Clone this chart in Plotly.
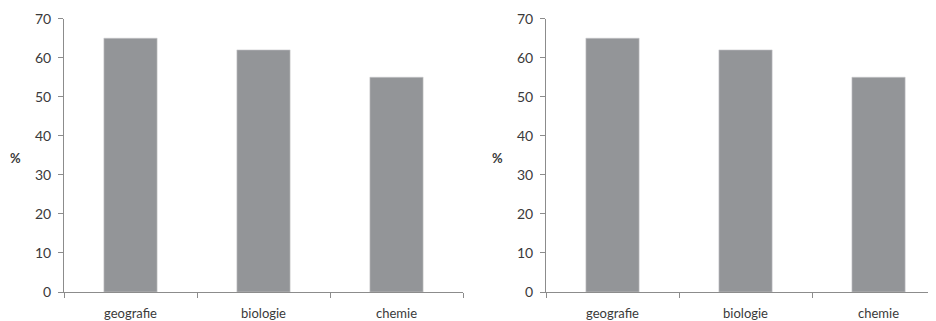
import plotly.graph_objects as go

categories = ["geografie", "biologie", "chemie"]
values_left = [65, 62, 55]
values_right = [65, 62, 55]
y_ticks = [0, 10, 20, 30, 40, 50, 60, 70]

# the page body adds an 8px margin; place everything relative to that
OFF = 8
W, H = 936 - OFF, 321 - OFF
bar_color = "#939598"
axis_color = "#8c8c8c"
font_family = "Lato, 'Open Sans', sans-serif"
text_color = "#3a3a3a"

def px_x(v):
    return (v - OFF) / W

def px_y(v):
    return (H - (v - OFF)) / H

fig = go.Figure()
fig.add_trace(go.Bar(x=categories, y=values_left, xaxis="x", yaxis="y",
                     marker=dict(color=bar_color, line=dict(color="#c8c8ca", width=0.6)),
                     width=0.4, showlegend=False, hoverinfo="skip"))
fig.add_trace(go.Bar(x=categories, y=values_right, xaxis="x2", yaxis="y2",
                     marker=dict(color=bar_color, line=dict(color="#c8c8ca", width=0.6)),
                     width=0.4, showlegend=False, hoverinfo="skip"))

xcommon = dict(type="category", showline=True, linecolor=axis_color, linewidth=1,
               ticks="outside", tickson="boundaries", ticklen=5, tickcolor=axis_color,
               showgrid=False, zeroline=False, automargin=False, ticklabelstandoff=9,
               tickfont=dict(family=font_family, size=13, color=text_color))
ycommon = dict(range=[0, 70], tickvals=y_ticks, showline=True, linecolor=axis_color,
               linewidth=1, ticks="outside", ticklen=5, tickcolor=axis_color,
               showgrid=False, zeroline=False, automargin=False, ticklabelstandoff=4,
               tickfont=dict(family=font_family, size=14, color=text_color))

top = 18.7
bottom = 292
fig.update_layout(
    width=W, height=H,
    margin=dict(l=0, r=0, t=0, b=0, pad=0),
    paper_bgcolor="white", plot_bgcolor="white",
    xaxis=dict(domain=[px_x(64), px_x(463)], range=[-0.5, 2.5], anchor="y", **xcommon),
    xaxis2=dict(domain=[px_x(546), 1.0], range=[-0.5, 2.432], anchor="y2", **xcommon),
    yaxis=dict(domain=[px_y(bottom), px_y(top)], anchor="x", **ycommon),
    yaxis2=dict(domain=[px_y(bottom), px_y(top)], anchor="x2", **ycommon),
    annotations=[
        dict(text="<b>%</b>", x=px_x(15), y=px_y(158), xref="paper", yref="paper",
             xanchor="center", yanchor="middle",
             showarrow=False, font=dict(family=font_family, size=13, color=text_color)),
        dict(text="<b>%</b>", x=px_x(497), y=px_y(158), xref="paper", yref="paper",
             xanchor="center", yanchor="middle",
             showarrow=False, font=dict(family=font_family, size=13, color=text_color)),
    ],
)

fig.write_html("out.html")
